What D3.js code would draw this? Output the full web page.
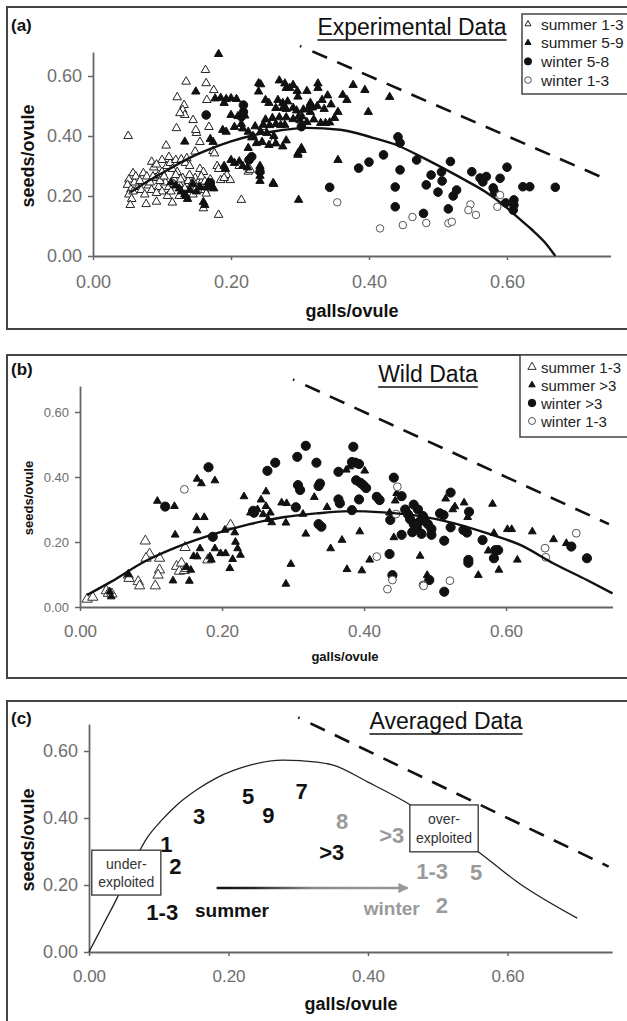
<!DOCTYPE html>
<html>
<head>
<meta charset="utf-8">
<script src="https://cdn.jsdelivr.net/npm/d3@7"></script>
<style>
  body { margin: 0; background: #fff; }
  svg { display: block; font-family: Arial, "Liberation Sans", sans-serif; }
</style>
</head>
<body>
<svg id="fig"></svg>
<script>
// shared ticks
const xTicks = [0, 0.2, 0.4, 0.6];
const yTicks = [0, 0.2, 0.4, 0.6];

// reference line seeds + galls = 1 (dashed, all panels)
const refLine = [[0.300, 0.700], [0.745, 0.255]];

// (a) Experimental data  [galls/ovule, seeds/ovule]
const aSummer13 = [[0.051,0.40],[0.135,0.581],[0.163,0.62],[0.164,0.576],[0.175,0.553],[0.122,0.529],[0.132,0.503],[0.130,0.487],[0.133,0.470],[0.126,0.476],[0.165,0.520],[0.145,0.453],[0.121,0.426],[0.150,0.410],[0.149,0.420],[0.106,0.368],[0.085,0.314],[0.058,0.276],[0.052,0.255],[0.050,0.237],[0.055,0.222],[0.052,0.205],[0.056,0.190],[0.054,0.170],[0.077,0.173],[0.092,0.181],[0.115,0.178],[0.160,0.159],[0.182,0.137],[0.162,0.220],[0.164,0.208],[0.194,0.270],[0.199,0.253],[0.185,0.253],[0.215,0.187],[0.073,0.276],[0.078,0.265],[0.090,0.260],[0.095,0.270],[0.107,0.300],[0.112,0.310],[0.120,0.320],[0.128,0.322],[0.134,0.310],[0.136,0.326],[0.148,0.348],[0.174,0.350],[0.176,0.342],[0.180,0.300],[0.182,0.290],[0.225,0.281],[0.261,0.380],[0.228,0.287],[0.065,0.230],[0.070,0.220],[0.080,0.235],[0.085,0.220],[0.095,0.230],[0.100,0.215],[0.105,0.245],[0.110,0.230],[0.118,0.255],[0.125,0.240],[0.130,0.260],[0.138,0.250],[0.142,0.235],[0.148,0.260],[0.152,0.245],[0.158,0.250],[0.165,0.240],[0.170,0.255],[0.100,0.280],[0.088,0.295],[0.115,0.290],[0.122,0.280],[0.140,0.300],[0.155,0.290],[0.160,0.280],[0.145,0.205],[0.125,0.200],[0.060,0.245],[0.168,0.430],[0.190,0.260],[0.212,0.300],[0.245,0.430],[0.155,0.380],[0.058,0.215],[0.062,0.265],[0.068,0.250],[0.075,0.205],[0.083,0.245],[0.087,0.265],[0.092,0.210],[0.097,0.250],[0.103,0.265],[0.108,0.200],[0.113,0.215],[0.117,0.240],[0.120,0.270],[0.127,0.255],[0.133,0.225],[0.140,0.270],[0.146,0.245],[0.150,0.228],[0.157,0.265],[0.162,0.248],[0.170,0.240],[0.110,0.330],[0.100,0.320],[0.092,0.305]];
const aSummer59 = [[0.182,0.673],[0.149,0.548],[0.177,0.525],[0.185,0.527],[0.193,0.523],[0.200,0.526],[0.208,0.523],[0.190,0.510],[0.133,0.381],[0.170,0.390],[0.174,0.380],[0.188,0.420],[0.193,0.414],[0.200,0.470],[0.210,0.466],[0.220,0.468],[0.205,0.430],[0.217,0.425],[0.225,0.414],[0.240,0.576],[0.240,0.548],[0.250,0.520],[0.255,0.510],[0.268,0.520],[0.275,0.510],[0.282,0.515],[0.280,0.560],[0.290,0.570],[0.296,0.550],[0.297,0.531],[0.310,0.550],[0.315,0.510],[0.318,0.495],[0.280,0.490],[0.290,0.494],[0.295,0.485],[0.305,0.488],[0.312,0.492],[0.250,0.455],[0.260,0.460],[0.270,0.462],[0.280,0.462],[0.290,0.456],[0.300,0.452],[0.310,0.446],[0.235,0.432],[0.243,0.415],[0.252,0.410],[0.262,0.400],[0.232,0.400],[0.237,0.376],[0.200,0.320],[0.205,0.310],[0.212,0.315],[0.217,0.300],[0.224,0.295],[0.242,0.300],[0.242,0.283],[0.242,0.267],[0.242,0.250],[0.262,0.240],[0.298,0.187],[0.297,0.342],[0.302,0.360],[0.160,0.180],[0.162,0.170],[0.155,0.230],[0.165,0.228],[0.175,0.225],[0.135,0.200],[0.137,0.190],[0.190,0.300],[0.192,0.290],[0.243,0.572],[0.270,0.585],[0.285,0.560],[0.278,0.575],[0.265,0.493],[0.275,0.493],[0.298,0.465],[0.303,0.465],[0.315,0.480],[0.325,0.500],[0.332,0.520],[0.340,0.535],[0.345,0.505],[0.335,0.490],[0.326,0.575],[0.326,0.560],[0.355,0.480],[0.362,0.537],[0.368,0.520],[0.377,0.570],[0.394,0.553],[0.399,0.480],[0.430,0.530],[0.330,0.443],[0.337,0.443],[0.343,0.445],[0.247,0.437],[0.256,0.436],[0.265,0.440],[0.272,0.436],[0.278,0.437],[0.230,0.395],[0.245,0.380],[0.255,0.370],[0.265,0.375],[0.275,0.365],[0.280,0.385],[0.297,0.337],[0.303,0.353],[0.355,0.320],[0.261,0.243],[0.350,0.460],[0.320,0.455],[0.225,0.360],[0.215,0.440],[0.120,0.235],[0.128,0.215],[0.140,0.220],[0.145,0.240],[0.150,0.215],[0.125,0.225],[0.113,0.245],[0.133,0.205],[0.167,0.245],[0.172,0.232]];
const aWinter58 = [[0.164,0.470],[0.218,0.503],[0.215,0.464],[0.230,0.331],[0.242,0.281],[0.170,0.244],[0.302,0.431],[0.218,0.480],[0.226,0.320],[0.343,0.229],[0.385,0.293],[0.400,0.313],[0.421,0.337],[0.438,0.230],[0.438,0.164],[0.445,0.287],[0.442,0.397],[0.445,0.377],[0.469,0.320],[0.479,0.142],[0.483,0.237],[0.490,0.270],[0.500,0.213],[0.505,0.280],[0.506,0.250],[0.518,0.315],[0.515,0.157],[0.522,0.200],[0.527,0.220],[0.549,0.281],[0.561,0.260],[0.565,0.247],[0.570,0.265],[0.580,0.227],[0.582,0.213],[0.590,0.259],[0.600,0.296],[0.598,0.177],[0.610,0.187],[0.610,0.170],[0.609,0.153],[0.623,0.231],[0.633,0.231],[0.670,0.229]];
const aWinter13 = [[0.354,0.179],[0.416,0.092],[0.449,0.103],[0.463,0.130],[0.483,0.110],[0.515,0.109],[0.520,0.114],[0.547,0.172],[0.544,0.153],[0.555,0.137],[0.590,0.203],[0.586,0.164]];
const aFit = [[0.054,0.212],[0.080,0.250],[0.112,0.292],[0.140,0.327],[0.170,0.357],[0.200,0.382],[0.228,0.400],[0.261,0.415],[0.310,0.427],[0.358,0.421],[0.406,0.394],[0.440,0.370],[0.470,0.337],[0.508,0.292],[0.540,0.252],[0.568,0.215],[0.595,0.170],[0.614,0.132],[0.635,0.090],[0.655,0.045],[0.670,0.000]];

// (b) Wild data
const bSummer13 = [[0.010,0.024],[0.018,0.030],[0.037,0.050],[0.040,0.042],[0.068,0.098],[0.069,0.088],[0.082,0.078],[0.084,0.065],[0.106,0.065],[0.092,0.203],[0.098,0.163],[0.093,0.150],[0.112,0.150],[0.112,0.114],[0.110,0.098],[0.136,0.125],[0.140,0.110],[0.143,0.135],[0.147,0.112],[0.150,0.118],[0.148,0.183],[0.180,0.145],[0.212,0.252],[0.045,0.040]];
const bSummerGt3 = [[0.109,0.326],[0.133,0.310],[0.165,0.394],[0.171,0.380],[0.190,0.389],[0.231,0.340],[0.164,0.276],[0.175,0.276],[0.134,0.222],[0.165,0.235],[0.169,0.180],[0.165,0.155],[0.160,0.156],[0.190,0.180],[0.198,0.165],[0.205,0.165],[0.183,0.155],[0.185,0.145],[0.204,0.237],[0.218,0.229],[0.219,0.200],[0.222,0.180],[0.226,0.160],[0.215,0.147],[0.211,0.119],[0.131,0.081],[0.154,0.080],[0.156,0.114],[0.044,0.032],[0.042,0.047],[0.068,0.100],[0.150,0.122],[0.262,0.355],[0.255,0.330],[0.262,0.310],[0.268,0.290],[0.258,0.285],[0.265,0.270],[0.270,0.260],[0.284,0.321],[0.291,0.319],[0.290,0.259],[0.314,0.286],[0.330,0.338],[0.348,0.307],[0.318,0.225],[0.369,0.206],[0.353,0.180],[0.394,0.232],[0.375,0.422],[0.380,0.432],[0.401,0.419],[0.297,0.132],[0.290,0.071],[0.376,0.116],[0.397,0.112],[0.408,0.145],[0.442,0.214],[0.479,0.157],[0.444,0.327],[0.446,0.350],[0.436,0.290],[0.250,0.300],[0.240,0.290],[0.515,0.333],[0.525,0.300],[0.528,0.309],[0.541,0.321],[0.546,0.276],[0.581,0.317],[0.602,0.239],[0.608,0.239],[0.637,0.232],[0.667,0.208],[0.685,0.196],[0.583,0.227],[0.575,0.173],[0.616,0.145],[0.590,0.114],[0.561,0.098],[0.489,0.098]];
const bWinterGt3 = [[0.181,0.430],[0.120,0.309],[0.245,0.290],[0.187,0.216],[0.318,0.496],[0.306,0.462],[0.275,0.444],[0.264,0.419],[0.333,0.444],[0.385,0.493],[0.383,0.446],[0.388,0.444],[0.393,0.440],[0.364,0.416],[0.307,0.375],[0.310,0.360],[0.338,0.380],[0.336,0.372],[0.389,0.390],[0.395,0.382],[0.399,0.375],[0.403,0.366],[0.364,0.331],[0.366,0.319],[0.393,0.331],[0.418,0.339],[0.422,0.329],[0.304,0.307],[0.383,0.298],[0.244,0.296],[0.442,0.398],[0.453,0.341],[0.437,0.268],[0.458,0.300],[0.462,0.285],[0.465,0.270],[0.470,0.255],[0.475,0.240],[0.468,0.230],[0.478,0.262],[0.483,0.280],[0.476,0.300],[0.470,0.315],[0.453,0.222],[0.436,0.163],[0.440,0.098],[0.336,0.255],[0.340,0.247],[0.522,0.352],[0.507,0.288],[0.512,0.283],[0.548,0.293],[0.485,0.270],[0.490,0.255],[0.495,0.240],[0.481,0.225],[0.495,0.222],[0.522,0.245],[0.540,0.237],[0.545,0.229],[0.513,0.204],[0.567,0.206],[0.585,0.175],[0.589,0.175],[0.583,0.150],[0.547,0.145],[0.547,0.136],[0.492,0.083],[0.513,0.047],[0.692,0.186],[0.714,0.150]];
const bWinter13 = [[0.147,0.362],[0.447,0.370],[0.445,0.286],[0.418,0.155],[0.440,0.083],[0.433,0.055],[0.483,0.068],[0.699,0.227],[0.655,0.181],[0.656,0.153],[0.521,0.081],[0.484,0.065]];
const bFit = [[0.010,0.037],[0.044,0.078],[0.091,0.140],[0.138,0.186],[0.185,0.222],[0.239,0.255],[0.286,0.276],[0.333,0.288],[0.380,0.295],[0.427,0.291],[0.474,0.281],[0.526,0.258],[0.573,0.227],[0.620,0.191],[0.667,0.134],[0.714,0.083],[0.750,0.042]];

// (c) Averaged data: [age label, galls/ovule, seeds/ovule]
const cSummer = [["1-3",0.105,0.119],["1",0.111,0.320],["2",0.124,0.255],["3",0.158,0.403],["5",0.228,0.463],["9",0.257,0.406],["7",0.305,0.480],[">3",0.348,0.296]];
const cWinter = [["8",0.363,0.391],[">3",0.434,0.349],["1-3",0.492,0.239],["5",0.555,0.236],["2",0.506,0.140]];
const cFit = [[0,0],[0.02,0.08],[0.04,0.16],[0.06,0.25],[0.083,0.34],[0.105,0.395],[0.126,0.439],[0.155,0.485],[0.183,0.52],[0.231,0.558],[0.278,0.573],[0.327,0.567],[0.35,0.558],[0.40,0.507],[0.461,0.439],[0.51,0.37],[0.559,0.298],[0.614,0.209],[0.70,0.101]];

const svg = d3.select("#fig").attr("width", 627).attr("height", 1021);
const grey = "#9a9a9a";

function drawPanel(p) {
    const g = svg.append("g");
    const x = d3.scaleLinear().domain([0, 0.75]).range([p.left, p.left + 0.75 * p.xUnit]);
    const y = d3.scaleLinear().domain([0, 0.68]).range([p.bottom, p.bottom - 0.68 * p.yUnit]);

    // frame
    g.append("rect")
        .attr("x", 7).attr("y", p.top)
        .attr("width", 650).attr("height", p.frameBottom - p.top)
        .attr("fill", "none").attr("stroke", "#444").attr("stroke-width", 2);

    // axes
    const gy = g.append("g")
        .attr("transform", `translate(${p.left},0)`)
        .call(d3.axisLeft(y).tickValues(yTicks).tickFormat(d3.format(".2f"))
            .tickSize(5).tickSizeOuter(0).tickPadding(6));
    const gx = g.append("g")
        .attr("transform", `translate(0,${p.bottom})`)
        .call(d3.axisBottom(x).tickValues(xTicks).tickFormat(d3.format(".2f"))
            .tickSize(4).tickSizeOuter(0).tickPadding(p.xPad));
    [gy, gx].forEach(a => {
        a.attr("font-family", null).attr("font-size", null);
        a.select(".domain").attr("stroke", "#666").attr("stroke-width", 1.8);
        a.selectAll(".tick line").attr("stroke", "#666").attr("stroke-width", 1.5);
        a.selectAll(".tick text").attr("fill", "#6e6e6e");
    });
    gy.selectAll(".tick text").style("font-size", p.yTickFont + "px");
    gx.selectAll(".tick text").style("font-size", p.xTickFont + "px");

    // axis titles
    g.append("text")
        .text("seeds/ovule")
        .attr("transform", `translate(${p.yTitleX},${p.yTitleY}) rotate(-90)`)
        .attr("text-anchor", "middle").attr("dominant-baseline", "central")
        .attr("font-weight", "bold").style("font-size", p.axisFont + "px").attr("fill", "#111");
    g.append("text")
        .text("galls/ovule")
        .attr("x", p.xTitleX).attr("y", p.xTitleY)
        .attr("text-anchor", "middle")
        .attr("font-weight", "bold").style("font-size", p.axisFont + "px").attr("fill", "#111");

    // panel letter
    g.append("text")
        .text(p.letter)
        .attr("x", 11).attr("y", p.letterY)
        .attr("font-weight", "bold").style("font-size", "17px").attr("fill", "#111");

    // underlined title
    const t = g.append("text")
        .text(p.title)
        .attr("x", p.titleX).attr("y", p.titleY)
        .attr("text-anchor", "middle").style("font-size", "23px").attr("fill", "#111");
    const tw = t.node().getComputedTextLength();
    g.append("line")
        .attr("x1", p.titleX - tw / 2).attr("x2", p.titleX + tw / 2)
        .attr("y1", p.titleY + 5).attr("y2", p.titleY + 5)
        .attr("stroke", "#111").attr("stroke-width", 1.6);

    // dashed reference line, starting with a single dot
    const dash = "1.5,12," + d3.range(20).map(() => "16,11").join(",");
    g.append("path")
        .datum(refLine)
        .attr("d", d3.line().x(d => x(d[0])).y(d => y(d[1])))
        .attr("fill", "none").attr("stroke", "#111").attr("stroke-width", 2.6)
        .attr("stroke-dasharray", dash);

    return {g, x, y};
}

function drawPoints(sc, data, type, size, fill, stroke) {
    sc.g.append("g").selectAll("path")
        .data(data)
        .join("path")
        .attr("transform", d => `translate(${sc.x(d[0])},${sc.y(d[1])})`)
        .attr("d", d3.symbol(type == "tri" ? d3.symbolTriangle : d3.symbolCircle, size))
        .attr("fill", fill)
        .attr("stroke", stroke)
        .attr("stroke-width", 1);
}

function drawFit(sc, data, width, color) {
    sc.g.append("path")
        .datum(data)
        .attr("d", d3.line().x(d => sc.x(d[0])).y(d => sc.y(d[1])).curve(d3.curveMonotoneX))
        .attr("fill", "none").attr("stroke", color).attr("stroke-width", width);
}

function drawLegend(sc, box, items) {
    const lg = sc.g.append("g");
    lg.append("rect")
        .attr("x", box.x).attr("y", box.y).attr("width", 140).attr("height", box.h)
        .attr("fill", "#fff").attr("stroke", "#444").attr("stroke-width", 1.5);
    items.forEach((it, i) => {
        const cy = box.y0 + i * box.step;
        lg.append("path")
            .attr("transform", `translate(${box.mx},${cy})`)
            .attr("d", d3.symbol(it.type == "tri" ? d3.symbolTriangle : d3.symbolCircle, it.size))
            .attr("fill", it.fill).attr("stroke", it.stroke).attr("stroke-width", 1);
        lg.append("text")
            .text(it.label)
            .attr("x", box.tx).attr("y", cy)
            .attr("dominant-baseline", "central")
            .style("font-size", box.font + "px").attr("fill", "#222");
    });
}

function main() {
    // ---------- (a) ----------
    const a = drawPanel({
        letter: "(a)", letterY: 31, top: 7, frameBottom: 329,
        left: 93, xUnit: 690, bottom: 256, yUnit: 300,
        yTickFont: 18, xTickFont: 18, xPad: 15, axisFont: 18,
        yTitleX: 28, yTitleY: 156, xTitleX: 352, xTitleY: 317,
        title: "Experimental Data", titleX: 412, titleY: 35
    });
    drawPoints(a, aSummer13, "tri", 32, "#fff", "#222");
    drawPoints(a, aSummer59, "tri", 30, "#111", "#111");
    drawPoints(a, aWinter58, "circle", 58, "#111", "#111");
    drawPoints(a, aWinter13, "circle", 44, "#fff", "#555");
    drawFit(a, aFit, 2.4, "#111");
    drawLegend(a, {x: 522, y: 14, h: 80, y0: 24, step: 18.7, mx: 528, tx: 541, font: 15.5}, [
        {label: "summer 1-3", type: "tri", size: 16, fill: "#fff", stroke: "#222"},
        {label: "summer 5-9", type: "tri", size: 16, fill: "#111", stroke: "#111"},
        {label: "winter 5-8", type: "circle", size: 40, fill: "#111", stroke: "#111"},
        {label: "winter 1-3", type: "circle", size: 34, fill: "#fff", stroke: "#555"}
    ]);

    // ---------- (b) ----------
    const b = drawPanel({
        letter: "(b)", letterY: 375, top: 355, frameBottom: 678,
        left: 80, xUnit: 710, bottom: 607, yUnit: 325,
        yTickFont: 13, xTickFont: 17, xPad: 14, axisFont: 13,
        yTitleX: 28, yTitleY: 498, xTitleX: 345, xTitleY: 661,
        title: "Wild Data", titleX: 428, titleY: 382
    });
    drawPoints(b, bSummer13, "tri", 46, "#fff", "#333");
    drawPoints(b, bSummerGt3, "tri", 26, "#111", "#111");
    drawPoints(b, bWinterGt3, "circle", 66, "#111", "#111");
    drawPoints(b, bWinter13, "circle", 48, "#fff", "#555");
    drawFit(b, bFit, 2.4, "#111");
    drawLegend(b, {x: 520, y: 355, h: 82, y0: 367, step: 18, mx: 532, tx: 541, font: 15}, [
        {label: "summer 1-3", type: "tri", size: 30, fill: "#fff", stroke: "#333"},
        {label: "summer >3", type: "tri", size: 18, fill: "#111", stroke: "#111"},
        {label: "winter >3", type: "circle", size: 44, fill: "#111", stroke: "#111"},
        {label: "winter 1-3", type: "circle", size: 38, fill: "#fff", stroke: "#555"}
    ]);

    // ---------- (c) ----------
    const c = drawPanel({
        letter: "(c)", letterY: 724, top: 701, frameBottom: 1040,
        left: 89, xUnit: 697.5, bottom: 952, yUnit: 335,
        yTickFont: 18, xTickFont: 17, xPad: 14, axisFont: 18,
        yTitleX: 28, yTitleY: 840, xTitleX: 351, xTitleY: 1010,
        title: "Averaged Data", titleX: 446, titleY: 729
    });
    drawFit(c, cFit, 1.3, "#222");

    // boxes marking the under- and over-exploited ends of the curve
    const zones = [
        {lines: ["under-", "exploited"], x0: 0.004, x1: 0.103, y0: 0.170, y1: 0.304},
        {lines: ["over-", "exploited"], x0: 0.460, x1: 0.558, y0: 0.299, y1: 0.439}
    ];
    zones.forEach(z => {
        const bx = c.x(z.x0), by = c.y(z.y1);
        const bw = c.x(z.x1) - bx, bh = c.y(z.y0) - by;
        c.g.append("rect")
            .attr("x", bx).attr("y", by).attr("width", bw).attr("height", bh)
            .attr("fill", "#fff").attr("stroke", "#333").attr("stroke-width", 1.3);
        z.lines.forEach((s, i) => {
            c.g.append("text")
                .text(s)
                .attr("x", bx + bw / 2).attr("y", by + bh * (i == 0 ? 0.3 : 0.7))
                .attr("text-anchor", "middle").attr("dominant-baseline", "central")
                .style("font-size", "14px").attr("fill", "#333");
        });
    });

    // summer -> winter arrow
    const defs = svg.append("defs");
    const grad = defs.append("linearGradient")
        .attr("id", "sw").attr("gradientUnits", "userSpaceOnUse")
        .attr("x1", c.x(0.183)).attr("x2", c.x(0.457)).attr("y1", 0).attr("y2", 0);
    grad.append("stop").attr("offset", "0").attr("stop-color", "#111");
    grad.append("stop").attr("offset", "0.18").attr("stop-color", "#222");
    grad.append("stop").attr("offset", "0.5").attr("stop-color", "#8a8a8a");
    grad.append("stop").attr("offset", "1").attr("stop-color", grey);
    defs.append("marker")
        .attr("id", "head").attr("viewBox", "0 0 10 10")
        .attr("refX", 9).attr("refY", 5)
        .attr("markerWidth", 4.5).attr("markerHeight", 4)
        .attr("markerUnits", "strokeWidth").attr("orient", "auto")
        .append("path").attr("d", "M0,0L10,5L0,10Z").attr("fill", grey);
    c.g.append("line")
        .attr("x1", c.x(0.183)).attr("x2", c.x(0.457))
        .attr("y1", c.y(0.191)).attr("y2", c.y(0.191))
        .attr("stroke", "url(#sw)").attr("stroke-width", 2.6)
        .attr("marker-end", "url(#head)");
    c.g.append("text").text("summer")
        .attr("x", c.x(0.205)).attr("y", c.y(0.125))
        .attr("text-anchor", "middle").attr("dominant-baseline", "central")
        .attr("font-weight", "bold").style("font-size", "19px").attr("fill", "#111");
    c.g.append("text").text("winter")
        .attr("x", c.x(0.434)).attr("y", c.y(0.131))
        .attr("text-anchor", "middle").attr("dominant-baseline", "central")
        .attr("font-weight", "bold").style("font-size", "19px").attr("fill", grey);

    // averaged points shown by their age labels
    [[cSummer, "#111"], [cWinter, grey]].forEach(([set, col]) => {
        c.g.append("g").selectAll("text")
            .data(set)
            .join("text")
            .text(d => d[0])
            .attr("x", d => c.x(d[1])).attr("y", d => c.y(d[2]))
            .attr("text-anchor", "middle").attr("dominant-baseline", "central")
            .attr("font-weight", "bold").style("font-size", "22px").attr("fill", col);
    });
}

main();
</script>
</body>
</html>
